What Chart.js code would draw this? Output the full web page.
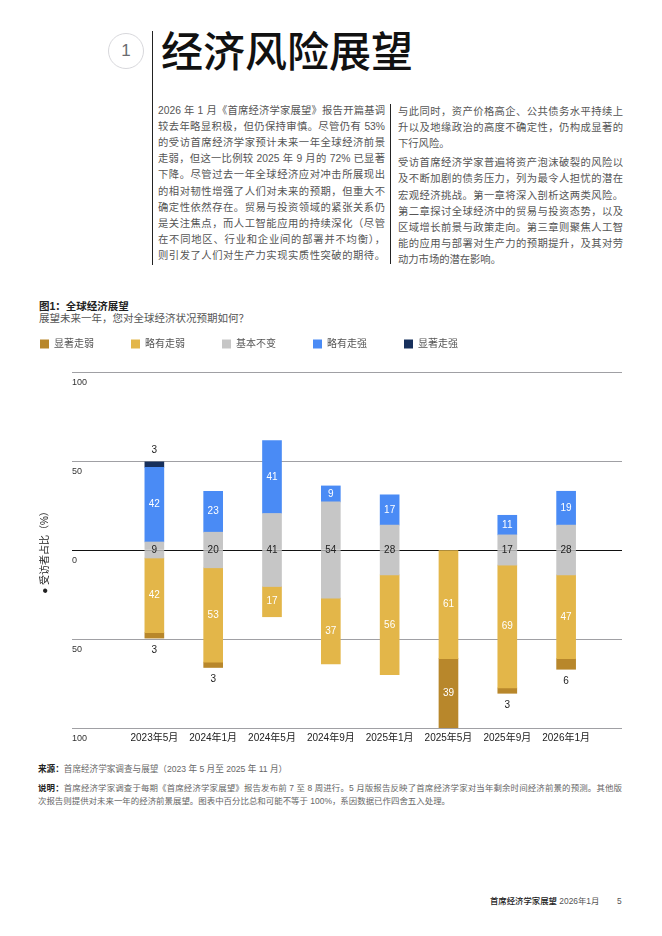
<!DOCTYPE html>
<html lang="zh-CN">
<head>
<meta charset="utf-8">
<title>经济风险展望</title>
<script src="https://cdn.jsdelivr.net/npm/chart.js@4.4.1/dist/chart.umd.min.js"></script>
<style>
  html, body { margin: 0; padding: 0; background: #fff; }
  body {
    width: 662px; height: 936px; position: relative; overflow: hidden;
    font-family: "Liberation Sans", "Noto Sans CJK SC", sans-serif; color: #222;
  }
  .num {
    position: absolute; left: 108px; top: 33px; width: 34px; height: 34px;
    border: 1px solid #d8d8dc; border-radius: 50%;
    text-align: center; line-height: 34px; font-size: 17px; color: #6b6b70;
  }
  .vline { position: absolute; width: 1px; background: #222; }
  h1 {
    position: absolute; left: 161px; top: 24px; margin: 0;
    font-family: "Noto Sans CJK SC", sans-serif;
    font-size: 42px; font-weight: 500; line-height: 50px; color: #111;
  }
  .col { position: absolute; font-size: 10.3px; line-height: 16.2px; color: #555; }
  .col div { text-align: justify; text-align-last: justify; }
  .col div.end { text-align-last: left; }
  .col .gap { margin-top: 3px; }
  .fig-title { position: absolute; left: 39px; top: 300px; font-size: 10.5px; line-height: 13px; font-weight: bold; color: #222; }
  .fig-sub { position: absolute; left: 39px; top: 312px; font-size: 10.5px; line-height: 13px; color: #555; }
  #wrap { position: absolute; left: 3px; top: 302px; width: 637px; height: 446px; }
  .foot { position: absolute; left: 38px; width: 584px; font-size: 8.45px; line-height: 13.4px; color: #666; }
  .foot b { color: #222; }
  .foot .j { text-align: justify; text-align-last: justify; }
  .page { position: absolute; top: 894px; font-size: 8.4px; line-height: 14px; color: #555; }
  .page b { color: #222; font-weight: 500; }
</style>
</head>
<body>

<div class="num">1</div>
<div class="vline" style="left:152px; top:31px; height:234px;"></div>
<h1>经济风险展望</h1>

<div class="col" style="left:158px; top:102.5px; width:227px;">
  <div>2026 年 1 月《首席经济学家展望》报告开篇基调</div>
  <div>较去年略显积极，但仍保持审慎。尽管仍有 53%</div>
  <div>的受访首席经济学家预计未来一年全球经济前景</div>
  <div>走弱，但这一比例较 2025 年 9 月的 72% 已显著</div>
  <div>下降。尽管过去一年全球经济应对冲击所展现出</div>
  <div>的相对韧性增强了人们对未来的预期，但重大不</div>
  <div>确定性依然存在。贸易与投资领域的紧张关系仍</div>
  <div>是关注焦点，而人工智能应用的持续深化（尽管</div>
  <div>在不同地区、行业和企业间的部署并不均衡），</div>
  <div>则引发了人们对生产力实现实质性突破的期待。</div>
</div>

<div class="vline" style="left:390px; top:104px; height:160px;"></div>

<div class="col" style="left:398px; top:103.5px; width:225px;">
  <div>与此同时，资产价格高企、公共债务水平持续上</div>
  <div>升以及地缘政治的高度不确定性，仍构成显著的</div>
  <div class="end">下行风险。</div>
  <div class="gap">受访首席经济学家普遍将资产泡沫破裂的风险以</div>
  <div>及不断加剧的债务压力，列为最令人担忧的潜在</div>
  <div>宏观经济挑战。第一章将深入剖析这两类风险。</div>
  <div>第二章探讨全球经济中的贸易与投资态势，以及</div>
  <div>区域增长前景与政策走向。第三章则聚焦人工智</div>
  <div>能的应用与部署对生产力的预期提升，及其对劳</div>
  <div class="end">动力市场的潜在影响。</div>
</div>

<div class="fig-title">图1：全球经济展望</div>
<div class="fig-sub">展望未来一年，您对全球经济状况预期如何？</div>

<div id="wrap"><canvas id="grafico"></canvas></div>

<div class="foot" style="top:763.3px; font-size:8.6px;"><b>来源：</b>首席经济学家调查与展望（2023 年 5 月至 2025 年 11 月）</div>
<div class="foot" style="top:781.6px;">
  <div class="j"><b>说明：</b>首席经济学家调查于每期《首席经济学家展望》报告发布前 7 至 8 周进行。5 月版报告反映了首席经济学家对当年剩余时间经济前景的预测。其他版</div>
  <div>次报告则提供对未来一年的经济前景展望。图表中百分比总和可能不等于 100%，系因数据已作四舍五入处理。</div>
</div>

<div class="page" style="left:490px;"><b>首席经济学家展望</b> 2026年1月</div>
<div class="page" style="left:617px;">5</div>

<script>
// DADOS
const categories = ['2023年5月', '2024年1月', '2024年5月', '2024年9月', '2025年1月', '2025年5月', '2025年9月', '2026年1月'];
const muchWeaker   = [3, 3, 0, 0, 0, 39, 3, 6];
const weaker       = [42, 53, 17, 37, 56, 61, 69, 47];
const unchanged    = [9, 20, 41, 54, 28, 0, 17, 28];
const stronger     = [42, 23, 41, 9, 17, 0, 11, 19];
const muchStronger = [3, 0, 0, 0, 0, 0, 0, 0];
const yTicks = [-100, -50, 0, 50, 100];

const cores = {
    muchWeaker: '#b8872b',
    weaker: '#e3b649',
    unchanged: '#c6c6c6',
    stronger: '#4a8bf5',
    muchStronger: '#17305c'
};

// neutral bar is split in two halves so it sits centred on zero
const pontos = (arr, sign, scale = 1) => arr.map((v, i) => ({ x: i, y: v === 0 ? null : sign * v * scale }));

Chart.defaults.font.family = '"Liberation Sans", "Noto Sans CJK SC", sans-serif';
Chart.defaults.color = '#333';

// RÓTULOS DOS VALORES
const rotulos = {
    id: 'rotulos',
    afterDatasetsDraw(chart) {
        const ctx = chart.ctx;
        const zeroY = chart.scales.y.getPixelForValue(0);
        ctx.save();
        ctx.font = '10px "Liberation Sans", "Noto Sans CJK SC", sans-serif';
        ctx.textAlign = 'center';
        ctx.textBaseline = 'middle';
        chart.data.datasets.forEach((ds, di) => {
            if (!ds.values) return;
            chart.getDatasetMeta(di).data.forEach((bar, i) => {
                const v = ds.values[i];
                if (!v) return;
                if (ds.centered) {
                    ctx.fillStyle = '#222';
                    ctx.fillText(v, bar.x, zeroY);
                } else if (v >= 8) {
                    ctx.fillStyle = '#fff';
                    ctx.fillText(v, bar.x, (bar.y + bar.base) / 2);
                } else {
                    ctx.fillStyle = '#222';
                    ctx.fillText(v, bar.x, bar.y + (bar.y < bar.base ? -12 : 12));
                }
            });
        });
        ctx.restore();
    }
};

const legendOrder = [3, 2, 0, 4, 5];

new Chart(document.getElementById('grafico'), {
    type: 'bar',
    data: {
        datasets: [
            { label: '基本不变', data: pontos(unchanged, 1, 0.5), backgroundColor: cores.unchanged, values: unchanged, centered: true },
            { label: '基本不变', data: pontos(unchanged, -1, 0.5), backgroundColor: cores.unchanged },
            { label: '略有走弱', data: pontos(weaker, -1), backgroundColor: cores.weaker, values: weaker },
            { label: '显著走弱', data: pontos(muchWeaker, -1), backgroundColor: cores.muchWeaker, values: muchWeaker },
            { label: '略有走强', data: pontos(stronger, 1), backgroundColor: cores.stronger, values: stronger },
            { label: '显著走强', data: pontos(muchStronger, 1), backgroundColor: cores.muchStronger, values: muchStronger }
        ]
    },
    options: {
        responsive: true,
        maintainAspectRatio: false,
        animation: false,
        layout: { padding: { left: 0, right: 18, top: 0, bottom: 0 } },
        datasets: { bar: { barThickness: 19, borderWidth: 0 } },
        plugins: {
            tooltip: { enabled: false },
            legend: {
                position: 'top',
                align: 'start',
                labels: {
                    boxWidth: 9,
                    boxHeight: 9,
                    padding: 37,
                    color: '#555',
                    font: { size: 10 },
                    filter: item => item.datasetIndex !== 1,
                    sort: (a, b) => legendOrder.indexOf(a.datasetIndex) - legendOrder.indexOf(b.datasetIndex)
                }
            }
        },
        scales: {
            x: {
                type: 'linear',
                stacked: true,
                offset: false,
                bounds: 'data',
                min: -1.4,
                max: 7.95,
                afterBuildTicks: s => { s.ticks = categories.map((c, i) => ({ value: i })); },
                grid: { display: false, drawTicks: false },
                border: { display: false },
                ticks: {
                    autoSkip: false,
                    maxRotation: 0,
                    padding: 4,
                    color: '#222',
                    font: { size: 10 },
                    callback: v => categories[v]
                }
            },
            spacer: {
                type: 'linear',
                position: 'top',
                display: true,
                grid: { display: false, drawTicks: false },
                border: { display: false },
                ticks: { display: false },
                afterFit: s => { s.height = 13; }
            },
            y: {
                stacked: true,
                min: -100,
                max: 100,
                afterBuildTicks: s => { s.ticks = yTicks.map(v => ({ value: v })); },
                grid: {
                    drawTicks: false,
                    lineWidth: 1,
                    color: c => (c.tick && c.tick.value === 0) ? '#111' : '#a0a0a4'
                },
                border: { display: false },
                ticks: {
                    mirror: true,
                    padding: 0,
                    labelOffset: 11,
                    color: '#333',
                    font: { size: 9 },
                    callback: v => Math.abs(v)
                },
                title: {
                    display: true,
                    text: '● 受访者占比（%）',
                    color: '#222',
                    font: { size: 10 },
                    padding: { top: 36, bottom: 21 }
                }
            }
        }
    },
    plugins: [rotulos]
});
</script>
</body>
</html>
